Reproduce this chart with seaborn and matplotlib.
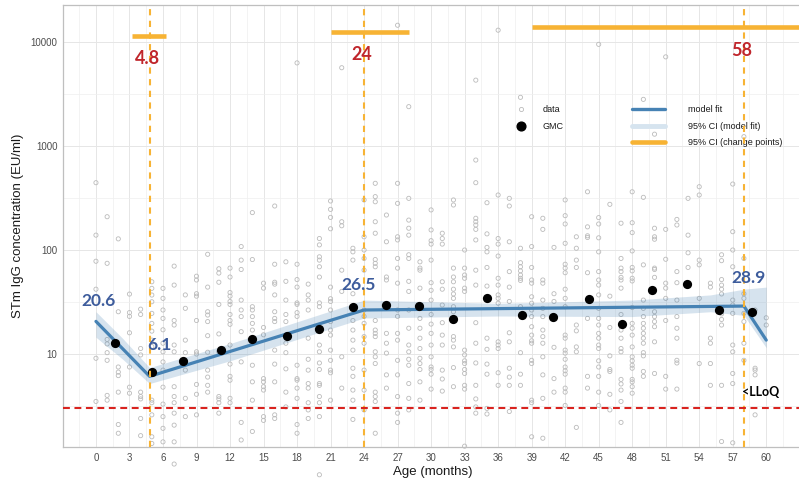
import numpy as np
import pandas as pd
import matplotlib
matplotlib.use("Agg")
import matplotlib.pyplot as plt
from matplotlib.lines import Line2D
from matplotlib.ticker import NullFormatter
import seaborn as sns

# Individual STm IgG measurements: age (months) and concentration (EU/ml)
obs_month = [
    0, 0, 0, 0, 0, 0,
    1, 1, 1, 1, 1, 1, 1, 1,
    2, 2, 2, 2, 2, 2, 2, 2,
    3, 3, 3, 3, 3, 3, 3,
    4, 4, 4, 4, 4, 4, 4, 4, 4,
    5, 5, 5, 5, 5, 5, 5, 5, 5, 5, 5, 5, 5, 5,
    6, 6, 6, 6, 6, 6, 6, 6, 6, 6, 6, 6, 6, 6,
    7, 7, 7, 7, 7, 7, 7, 7, 7, 7, 7, 7, 7,
    8, 8, 8, 8, 8, 8, 8,
    9, 9, 9, 9, 9, 9, 9, 9, 9, 9,
    10, 10, 10, 10, 10, 10, 10, 10, 10, 10, 10,
    11, 11, 11, 11, 11, 11, 11, 11, 11, 11,
    12, 12, 12, 12, 12, 12, 12, 12, 12, 12, 12, 12, 12, 12, 12,
    13, 13, 13, 13, 13, 13, 13, 13, 13, 13,
    14, 14, 14, 14, 14, 14, 14, 14, 14, 14, 14,
    15, 15, 15, 15, 15, 15, 15, 15, 15, 15,
    16, 16, 16, 16, 16, 16, 16, 16, 16, 16, 16, 16, 16,
    17, 17, 17, 17, 17, 17, 17, 17, 17, 17,
    18, 18, 18, 18, 18, 18, 18, 18, 18, 18, 18, 18, 18, 18, 18,
    19, 19, 19, 19, 19, 19, 19, 19, 19, 19, 19, 19,
    20, 20, 20, 20, 20, 20, 20, 20, 20, 20, 20, 20, 20, 20, 20, 20, 20, 20,
    21, 21, 21, 21, 21, 21, 21, 21, 21, 21, 21, 21, 21, 21, 21, 21,
    22, 22, 22, 22, 22, 22, 22,
    23, 23, 23, 23, 23, 23, 23, 23, 23, 23, 23, 23, 23, 23,
    24, 24, 24, 24, 24, 24, 24, 24, 24, 24, 24, 24, 24,
    25, 25, 25, 25, 25, 25, 25, 25, 25, 25, 25, 25, 25, 25, 25, 25, 25, 25, 25,
    26, 26, 26, 26, 26, 26, 26, 26, 26,
    27, 27, 27, 27, 27, 27, 27, 27, 27, 27, 27, 27, 27, 27, 27, 27, 27,
    28, 28, 28, 28, 28, 28, 28, 28, 28, 28, 28, 28, 28, 28, 28, 28, 28, 28,
    29, 29, 29, 29, 29, 29, 29, 29, 29, 29, 29, 29, 29,
    30, 30, 30, 30, 30, 30, 30, 30, 30, 30, 30, 30, 30, 30, 30, 30, 30,
    31, 31, 31, 31, 31, 31, 31, 31, 31, 31, 31, 31,
    32, 32, 32, 32, 32, 32, 32, 32, 32, 32, 32, 32, 32, 32, 32,
    33, 33, 33, 33, 33, 33, 33, 33, 33, 33, 33, 33, 33, 33, 33,
    34, 34, 34, 34, 34, 34, 34, 34, 34, 34, 34, 34, 34, 34, 34, 34, 34,
    35, 35, 35, 35, 35, 35, 35, 35, 35, 35, 35, 35, 35,
    36, 36, 36, 36, 36, 36, 36, 36, 36, 36, 36, 36, 36, 36, 36,
    37, 37, 37, 37, 37, 37, 37, 37, 37, 37, 37, 37,
    38, 38, 38, 38, 38, 38, 38, 38, 38, 38, 38, 38,
    39, 39, 39, 39, 39, 39, 39, 39, 39, 39, 39, 39, 39, 39, 39, 39, 39, 39,
    40, 40, 40, 40, 40, 40, 40, 40, 40, 40, 40, 40, 40, 40,
    41, 41, 41, 41, 41, 41, 41,
    42, 42, 42, 42, 42, 42, 42, 42, 42, 42, 42, 42, 42, 42, 42, 42, 42, 42, 42, 42, 42,
    43, 43, 43, 43, 43, 43, 43, 43, 43,
    44, 44, 44, 44, 44, 44, 44, 44,
    45, 45, 45, 45, 45, 45, 45, 45, 45, 45, 45, 45, 45, 45, 45, 45, 45, 45, 45, 45, 45,
    46, 46, 46, 46, 46, 46, 46, 46,
    47, 47, 47, 47, 47, 47, 47, 47, 47, 47, 47, 47, 47, 47, 47, 47, 47,
    48, 48, 48, 48, 48, 48, 48, 48, 48, 48, 48, 48, 48, 48, 48, 48, 48, 48, 48, 48, 48,
    49, 49, 49, 49, 49, 49, 49, 49, 49, 49, 49, 49, 49, 49, 49,
    50, 50, 50, 50, 50, 50, 50, 50, 50, 50, 50, 50, 50,
    51, 51, 51, 51, 51, 51, 51, 51, 51,
    52, 52, 52, 52, 52, 52, 52, 52, 52, 52, 52,
    53, 53, 53, 53,
    54, 54, 54, 54, 54, 54,
    55, 55, 55, 55, 55, 55,
    56, 56, 56, 56, 56, 56, 56, 56, 56, 56, 56,
    57, 57, 57, 57, 57, 57, 57, 57, 57, 57, 57, 57,
    58, 58, 58, 58, 58, 58, 58, 58,
    59, 59, 59, 59, 59,
    60, 60,
]
obs_conc = [
    444, 139, 78, 42, 9.1, 3.5,
    209, 74.5, 13.8, 12.5, 10.3, 8.7, 4.0, 3.6,
    128, 25.5, 7.5, 6.7, 6.2, 4.3, 2.1, 1.73,
    37.7, 25, 23, 16, 7.5, 4.8, 4.2,
    27, 24, 11.3, 9.8, 4.3, 3.9, 3.7, 2.4, 1.64,
    49.5, 42.8, 36.9, 31.8, 24.6, 19.7, 16.6, 13.6, 11.8, 3.6, 3.4, 2.6, 1.6, 1.38,
    42.8, 34.3, 26.5, 22.0, 17.1, 12.7, 10.5, 8.4, 7.0, 4.8, 3.3, 2.5, 1.93, 1.43,
    70, 46, 21, 19, 12.2, 10.5, 4.85, 3.9, 3.4, 2.7, 2.07, 1.43, 0.875,
    37, 27.5, 13.6, 10.3, 7.0, 3.75, 2.5,
    56, 51.5, 38, 36, 21, 10.5, 10, 5.1, 4.1, 2.6,
    91, 44, 25.5, 23.7, 20.5, 15, 10.4, 7.0, 6.0, 5.0, 4.3,
    66, 60, 49, 30, 15.6, 10.5, 3.9, 3.7, 3.4, 2.7,
    67, 55, 39, 36, 32, 30, 24, 21, 19.3, 12.2, 8.0, 6.1, 5.6, 3.75, 3.4,
    108, 80, 65, 33, 26.5, 22.9, 16.4, 8.4, 2.2, 1.49,
    229, 81, 28.5, 26.5, 22.9, 19.7, 17, 7.8, 5.4, 3.6, 1.8,
    48, 43, 18, 15.3, 5.8, 5.4, 4.85, 4.5, 2.5, 2.3,
    265, 73, 49, 47, 37, 25.5, 22, 20.5, 10.9, 8.0, 5.4, 2.6, 2.4,
    77, 50, 33, 24, 20.5, 12.7, 10.3, 7.2, 4.3, 3.1,
    6300, 73, 52, 44, 31, 30, 25, 23, 7.8, 5.8, 5.6, 4.7, 3.75, 2.1, 1.73,
    47, 37, 33, 26.5, 14.2, 8.9, 7.0, 5.2, 4.7, 3.4, 2.9, 2.4,
    129, 112, 86, 80, 69, 55, 31, 28.5, 12.2, 10.5, 8.2, 7.1, 5.2, 5.0, 3.9, 3.4, 2.5, 0.69,
    296, 246, 206, 160, 44, 34, 32, 26.5, 20.5, 17, 15.2, 10.9, 8.7, 7.0, 6.6, 3.6,
    5660, 187, 171, 64, 40, 9.4, 4.7,
    104, 96, 80, 38, 26.5, 21, 17, 13.6, 10.9, 7.3, 6.1, 4.5, 3.6, 2.35,
    303, 134, 100, 83, 64, 26.5, 23, 19.7, 14.7, 12.7, 7.0, 4.5, 2.9,
    438, 326, 291, 187, 145, 81, 74.5, 69, 21, 17, 15.8, 14.7, 10.5, 9.4, 8.1, 4.3, 3.9, 3.5, 1.73,
    217, 120, 55, 51.5, 15.8, 12.7, 10.2, 6.3, 4.7,
    14500, 438, 281, 134, 125, 83, 67, 48, 26.5, 23, 15.8, 13.6, 8.7, 6.3, 3.9, 2.7, 2.2,
    2390, 314, 194, 162, 139, 90, 83, 50, 40, 26.5, 17.7, 12.2, 10.5, 8.9, 7.8, 5.2, 3.75, 2.9,
    77, 67, 64, 43, 22, 17.7, 14.2, 11.3, 9.1, 8.1, 7.1, 5.4, 3.6,
    243, 156, 123, 114, 80, 48.5, 41, 33, 24, 19.4, 15.8, 12.2, 9.4, 7.5, 7.1, 6.4, 4.6,
    145, 129, 114, 49.5, 42, 29.6, 20, 15.2, 12.2, 7.0, 5.75, 4.4,
    303, 271, 67, 55, 49.5, 42, 37.8, 34.3, 28.5, 25.5, 14.7, 13.6, 11.7, 7.4, 4.85,
    100, 67, 57.5, 53.5, 43, 40, 10.9, 9.8, 8.6, 8.1, 7.1, 6.5, 5.0, 4.6, 1.3,
    4300, 733, 444, 202, 187, 174, 158, 125, 64, 46, 20, 12.7, 8.2, 5.0, 3.7, 3.1, 2.7,
    285, 143, 106, 96, 68, 45, 34.3, 14.2, 11.1, 8.0, 6.4, 3.0, 2.65,
    13000, 338, 129, 114, 87.5, 53.5, 46, 37, 34.3, 30.8, 13.1, 12.2, 11.3, 6.6, 5.0,
    314, 265, 120, 62, 44, 32, 16, 13.1, 7.3, 6.0, 5.0, 2.8,
    2940, 104, 75.5, 69, 63, 57.5, 53.5, 51, 28.5, 10.3, 6.4, 5.0,
    209, 108, 68, 51.5, 48, 35.5, 30.8, 26.5, 22.9, 18.3, 15.2, 13.4, 12.7, 8.7, 8.1, 3.6, 3.4, 1.6,
    202, 158, 51.5, 48, 33, 27.5, 22.9, 17, 14.7, 12.7, 9.4, 6.3, 3.75, 1.55,
    106, 38, 32, 23, 11.6, 5.8, 4.3,
    303, 214, 178, 116, 73, 67, 60.5, 42, 34.3, 28.5, 15.2, 14.2, 10.9, 10.2, 8.9, 7.5, 6.9, 6.4, 4.7, 4.3, 3.2,
    134, 104, 80, 68, 19, 16.7, 11.7, 10.5, 1.97,
    363, 167, 137, 132, 60.5, 22, 6.1, 4.7,
    9500, 205, 178, 131, 96, 62, 51.5, 46, 37, 27.5, 22, 19, 15.8, 14.2, 12.2, 11.3, 8.6, 7.5, 6.1, 4.3, 3.2,
    275, 36, 18, 9.6, 7.1, 6.8, 4.1, 2.9,
    181, 83, 67, 62, 54.6, 51.5, 43, 24, 17, 14.2, 11.3, 10.5, 5.7, 5.15, 4.5, 3.5, 2.2,
    363, 183, 147, 98, 68, 63, 53.5, 50.4, 28, 19.7, 17.7, 15.2, 11.7, 9.4, 8.6, 7.8, 7.3, 5.7, 5.4, 4.85, 4.2,
    2810, 321, 72, 33, 27.5, 22.9, 19.7, 17.7, 15.8, 14.2, 12.7, 10.3, 9.6, 6.8, 6.1,
    1300, 162, 134, 127, 67, 65, 54.6, 25.5, 22.9, 20.5, 18.3, 13.1, 6.5,
    7200, 158, 81.5, 48, 43, 34.3, 21, 6.1, 4.6,
    197, 174, 62, 48.5, 33, 22.9, 17.7, 14.2, 8.7, 8.2, 4.6,
    314, 139, 94, 68,
    406, 338, 80, 72, 34.3, 8.1,
    48, 44, 14.2, 12.7, 8.1, 5.0,
    90, 79, 52, 46, 42, 37.8, 24.3, 21.5, 19, 5.0, 1.44,
    431, 150, 100, 69, 33, 29.6, 24.6, 12.2, 10.5, 6.5, 5.2, 1.4,
    1230, 83, 38, 34.3, 24.6, 20.5, 12.7, 8.7,
    26.5, 7.3, 7.0, 6.3, 2.6,
    22.3, 19,
]

# Geometric mean concentration per age group
gmc_month = [1.7, 5.0, 7.8, 11.2, 14.0, 17.1, 20.0, 23.0, 26.0, 28.9,
             32.0, 35.0, 38.1, 40.9, 44.1, 47.1, 49.8, 52.9, 55.8, 58.7]
gmc_conc = [12.8, 6.7, 8.6, 10.9, 13.9, 14.8, 17.4, 28.5, 29.8, 28.7,
            21.6, 34.5, 23.9, 22.8, 33.8, 19.3, 41.0, 47.4, 26.6, 25.5]

# Piecewise (log-linear) model fit and its 95% CI
fit_month = [0, 4.8, 24, 58, 60]
fit_conc = [20.6, 6.1, 26.5, 28.9, 13.6]
ci_month = [0, 2.4, 4.8, 12, 24, 36, 48, 55, 58, 60]
ci_low = [14.5, 8.9, 5.2, 8.6, 22.2, 23.2, 22.9, 25.5, 23.5, 11.5]
ci_high = [25.5, 14.1, 7.4, 12.6, 33.0, 30.7, 33.0, 37.0, 42.0, 44.0]

# Change points with their 95% CIs
cp_month = [4.8, 24, 58]
cp_ci_low = [3.2, 21.0, 39.0]
cp_ci_high = [6.3, 28.0, 66.0]
cp_text = ["4.8", "24", "58"]

# Fitted values printed on the curve
fit_label_month = [0, 4.8, 24, 58]
fit_label_conc = [20.6, 6.1, 26.5, 28.9]
fit_label_text = ["20.6", "6.1", "26.5", "28.9"]

lloq = 3.0
x_ticks = list(range(0, 61, 3))
y_ticks = [10, 100, 1000, 10000]
y_tick_text = ["10", "100", "1000", "10000"]

# ---------------------------------------------------------------- styling
sns.set_theme(style="white")
plt.rcParams["font.family"] = ["Liberation Sans", "DejaVu Sans"]
BOLD = ["Lato", "DejaVu Sans"]

BLUE = "#4682B4"
ORANGE = "#F7B334"
RED_TXT = "#C0262C"
BLUE_TXT = "#3D5C9C"
LLOQ_RED = "#D9231F"
GRID = "#E6E6E6"
BORDER = "#BFBFBF"

W, H = 799, 484
fig = plt.figure(figsize=(W / 100, H / 100), dpi=100)
ax = fig.add_axes([63 / W, 1 - 447 / H, (802 - 63) / W, 442 / H])
ax.set_yscale("log")
ax.set_xlim(-2.95, 63.2)
ax.set_ylim(1.276, 22700)

obs = pd.DataFrame({"month": obs_month, "conc": obs_conc})
gmc = pd.DataFrame({"month": gmc_month, "conc": gmc_conc})
fit = pd.DataFrame({"month": fit_month, "conc": fit_conc})

# raw observations
sns.scatterplot(data=obs, x="month", y="conc", ax=ax, marker="o", s=9,
                color="none", edgecolor="#BBBBBB", linewidth=0.6,
                zorder=2, clip_on=False, legend=False)

# model fit band and line
ax.fill_between(ci_month, ci_low, ci_high, color=BLUE, alpha=0.22,
                linewidth=0, zorder=3)
sns.lineplot(data=fit, x="month", y="conc", ax=ax, color=BLUE, lw=2.3,
             estimator=None, sort=False, zorder=4, legend=False)

# GMC per age group
sns.scatterplot(data=gmc, x="month", y="conc", ax=ax, color="black", s=44,
                edgecolor="black", linewidth=0, zorder=5, legend=False)

# change points: dashed verticals plus CI bars along the top
bar_level = [11430, 12560, 13840]
for cp, lo, hi, lev, txt in zip(cp_month, cp_ci_low, cp_ci_high, bar_level, cp_text):
    ax.axvline(cp, color=ORANGE, lw=1.5, ls=(0, (3.0, 2.6)), zorder=6)
    ax.hlines(lev, lo, hi, color=ORANGE, lw=3.3, zorder=6, clip_on=True)
    ax.annotate(txt, (cp, lev), xytext=(-2, -28.5), textcoords="offset pixels",
                ha="center", va="baseline", color=RED_TXT, fontsize=13,
                fontweight="bold", family=BOLD, zorder=7)

# LLoQ
ax.axhline(lloq, color=LLOQ_RED, lw=1.5, ls=(0, (3.3, 2.2)), zorder=6)
ax.annotate("<LLoQ", (cp_month[-1], lloq), xytext=(16.5, 12),
            textcoords="offset pixels", ha="center", va="baseline",
            color="black", fontsize=9, fontweight="bold", family=BOLD, zorder=7)

# fitted values
label_offsets = [(3, 15.6), (9.6, 26.6), (-5.2, 20), (4.3, 22.8)]
for m, v, txt, off in zip(fit_label_month, fit_label_conc, fit_label_text, label_offsets):
    ax.annotate(txt, (m, v), xytext=off, textcoords="offset pixels",
                ha="center", va="baseline", color=BLUE_TXT, fontsize=12.5,
                fontweight="bold", family=BOLD, zorder=7)

# axes, ticks and grid
ax.set_xticks(x_ticks)
ax.set_xticks(np.arange(-1.5, 63, 3), minor=True)
ax.set_yticks(y_ticks)
ax.set_yticklabels(y_tick_text)
ax.set_yticks([10 ** (k + 0.5) for k in range(0, 4)], minor=True)
ax.yaxis.set_minor_formatter(NullFormatter())
ax.tick_params(which="minor", length=0)
ax.tick_params(which="major", length=2.5, width=0.6, color="#B3B3B3",
               labelsize=7, labelcolor="#4D4D4D", pad=1.5)
ax.grid(which="major", color=GRID, lw=0.7)
ax.grid(which="minor", color="#EFEFEF", lw=0.5)
ax.set_axisbelow(True)
for side in ["top", "left", "bottom", "right"]:
    ax.spines[side].set_color(BORDER)
    ax.spines[side].set_linewidth(0.9)

ax.set_xlabel("Age (months)", fontsize=9.5, color="#1A1A1A", va="center")
ax.set_ylabel("STm IgG concentration (EU/ml)", fontsize=9.5, color="#1A1A1A", va="center")
ax.xaxis.set_label_coords(0.5, -(472 - 447) / 442)
ax.yaxis.set_label_coords(-(63 - 18) / 739, 0.5)

# legends
leg1_handles = [
    Line2D([], [], marker="o", ls="none", mfc="none", mec="#BBBBBB", ms=3, mew=0.6, label="data"),
    Line2D([], [], marker="o", ls="none", color="black", ms=6.3, label="GMC"),
]
leg1 = ax.legend(handles=leg1_handles, loc="center left",
                 bbox_to_anchor=(514 / W, 1 - 118.3 / H), bbox_transform=fig.transFigure,
                 frameon=False, fontsize=6.5, borderpad=0, borderaxespad=0,
                 handlelength=1.5, handletextpad=1.65, labelspacing=0.85)
for t in leg1.get_texts():
    t.set_color("#1A1A1A")
ax.add_artist(leg1)

leg2_handles = [
    Line2D([], [], color=BLUE, lw=2.4, label="model fit"),
    Line2D([], [], color="#D6E4EF", lw=3.5, label="95% CI (model fit)"),
    Line2D([], [], color=ORANGE, lw=3.3, label="95% CI (change points)"),
]
leg2 = ax.legend(handles=leg2_handles, loc="center left",
                 bbox_to_anchor=(632 / W, 1 - 126.3 / H), bbox_transform=fig.transFigure,
                 frameon=False, fontsize=6.5, borderpad=0, borderaxespad=0,
                 handlelength=3.7, handletextpad=2.5, labelspacing=0.85)
for t in leg2.get_texts():
    t.set_color("#1A1A1A")

fig.savefig("out.png", dpi=100)
